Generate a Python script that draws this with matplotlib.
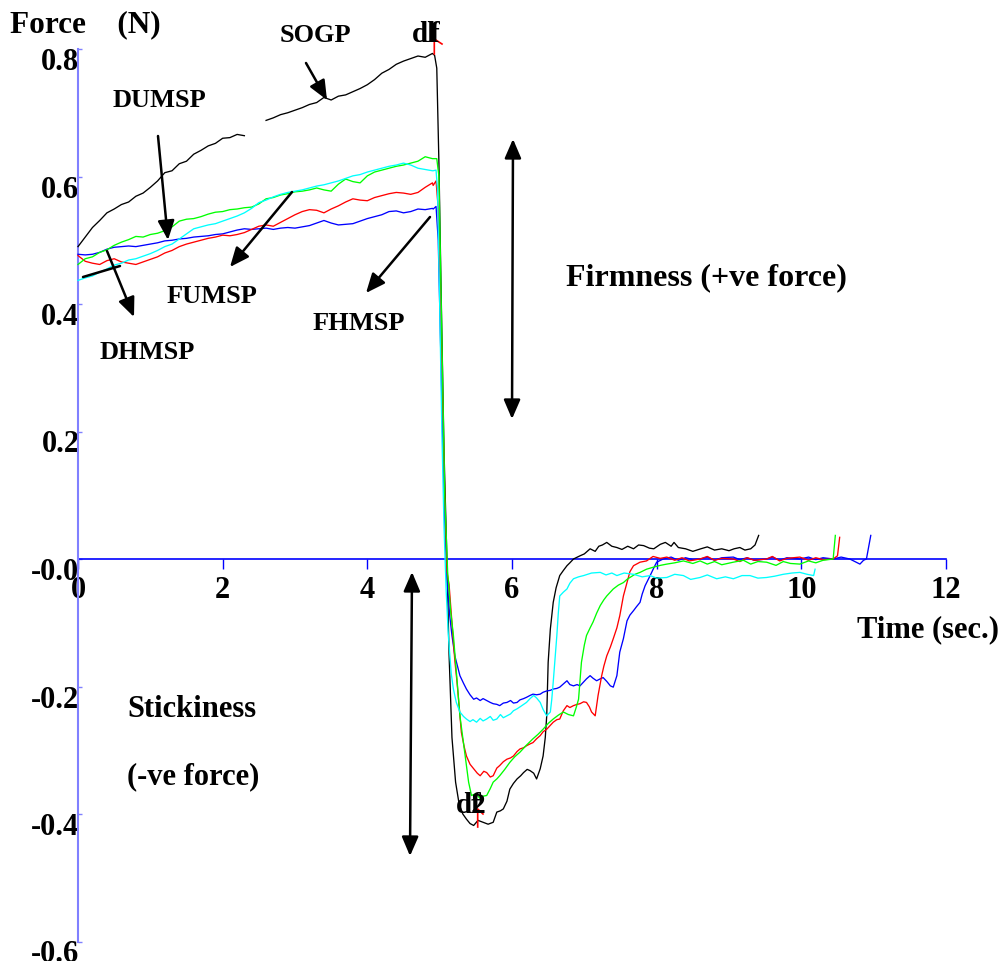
import numpy as np
import matplotlib
matplotlib.use('Agg')
import matplotlib.pyplot as plt
from matplotlib.transforms import ScaledTranslation

W, H, DPI = 1005, 962, 100

# ---------------- data ----------------
X_TICKS = [0, 2, 4, 6, 8, 10, 12]
X_LABELS = ['0', '2', '4', '6', '8', '10', '12']
Y_TICKS = [-0.6, -0.4, -0.2, 0.0, 0.2, 0.4, 0.6, 0.8]
Y_LABELS = ['-0.6', '-0.4', '-0.2', '-0.0', '0.2', '0.4', '0.6', '0.8']

# loading phase time samples (s)
T_LOAD = [0.0, 0.1, 0.2, 0.3, 0.4, 0.5, 0.6, 0.7, 0.8, 0.9,
          1.0, 1.1, 1.2, 1.3, 1.4, 1.5, 1.6, 1.7, 1.8, 1.9,
          2.0, 2.1, 2.2, 2.3, 2.4, 2.5, 2.6, 2.7, 2.8, 2.9,
          3.0, 3.1, 3.2, 3.3, 3.4, 3.5, 3.6, 3.7, 3.8, 3.9,
          4.0, 4.1, 4.2, 4.3, 4.4, 4.5, 4.6, 4.7, 4.8, 4.9]

BLACK_LOAD = [0.490, 0.505, 0.520, 0.531, 0.543, 0.549, 0.556, 0.560, 0.569, 0.574,
              0.583, 0.593, 0.606, 0.609, 0.620, 0.624, 0.635, 0.641, 0.648, 0.652,
              0.660, 0.661, 0.666, 0.664, np.nan, np.nan, 0.688, 0.692, 0.697, 0.700,
              0.704, 0.708, 0.713, 0.716, 0.724, 0.720, 0.726, 0.728, 0.733, 0.738,
              0.744, 0.752, 0.762, 0.768, 0.776, 0.781, 0.785, 0.789, 0.787, 0.793]
GREEN_LOAD = [0.462, 0.471, 0.474, 0.481, 0.485, 0.492, 0.497, 0.501, 0.506, 0.505,
              0.509, 0.511, 0.515, 0.521, 0.530, 0.533, 0.534, 0.537, 0.541, 0.544,
              0.545, 0.548, 0.549, 0.551, 0.552, 0.557, 0.565, 0.567, 0.571, 0.573,
              0.576, 0.577, 0.579, 0.582, 0.579, 0.577, 0.588, 0.596, 0.592, 0.590,
              0.601, 0.607, 0.610, 0.613, 0.616, 0.618, 0.621, 0.624, 0.631, 0.628]
CYAN_LOAD = [0.437, 0.441, 0.444, 0.450, 0.455, 0.461, 0.464, 0.469, 0.471, 0.475,
             0.479, 0.484, 0.490, 0.494, 0.502, 0.510, 0.518, 0.521, 0.524, 0.526,
             0.530, 0.534, 0.538, 0.543, 0.550, 0.559, 0.563, 0.568, 0.572, 0.575,
             0.577, 0.579, 0.582, 0.585, 0.587, 0.590, 0.593, 0.597, 0.601, 0.603,
             0.607, 0.610, 0.613, 0.616, 0.618, 0.621, 0.618, 0.613, 0.611, 0.609]
RED_LOAD = [0.476, 0.467, 0.464, 0.462, 0.468, 0.471, 0.466, 0.464, 0.462, 0.466,
            0.470, 0.474, 0.480, 0.484, 0.490, 0.494, 0.497, 0.500, 0.503, 0.505,
            0.508, 0.507, 0.509, 0.512, 0.517, 0.522, 0.524, 0.522, 0.528, 0.534,
            0.540, 0.545, 0.548, 0.547, 0.543, 0.549, 0.554, 0.560, 0.565, 0.563,
            0.562, 0.567, 0.570, 0.573, 0.575, 0.574, 0.572, 0.575, 0.583, 0.590]
BLUE_LOAD = [0.478, 0.477, 0.478, 0.481, 0.486, 0.489, 0.490, 0.491, 0.490, 0.492,
             0.494, 0.496, 0.499, 0.500, 0.502, 0.503, 0.505, 0.506, 0.507, 0.509,
             0.510, 0.513, 0.516, 0.518, 0.517, 0.518, 0.519, 0.517, 0.519, 0.520,
             0.519, 0.521, 0.523, 0.527, 0.531, 0.527, 0.524, 0.525, 0.526, 0.530,
             0.534, 0.537, 0.540, 0.545, 0.546, 0.543, 0.545, 0.549, 0.548, 0.550]

# withdrawal phase (time, force) pairs
BLACK_RELEASE = [(4.93, 0.79), (4.96, 0.77), (4.99, 0.62), (5.02, 0.42), (5.06, 0.17),
                 (5.10, 0.0), (5.13, -0.15), (5.17, -0.28), (5.22, -0.35), (5.27, -0.385),
                 (5.32, -0.400), (5.37, -0.408), (5.42, -0.415), (5.47, -0.418), (5.53, -0.410),
                 (5.60, -0.413), (5.67, -0.416), (5.74, -0.413), (5.79, -0.397), (5.84, -0.395),
                 (5.88, -0.392), (5.93, -0.380), (5.97, -0.361), (6.02, -0.352), (6.07, -0.345),
                 (6.12, -0.340), (6.16, -0.335), (6.21, -0.330), (6.25, -0.332), (6.30, -0.336),
                 (6.34, -0.345), (6.39, -0.329), (6.43, -0.309), (6.46, -0.280), (6.48, -0.246),
                 (6.50, -0.162), (6.53, -0.110), (6.57, -0.068), (6.61, -0.045), (6.66, -0.026),
                 (6.71, -0.018), (6.76, -0.0105), (6.80, -0.006), (6.85, 0.0), (6.94, 0.005),
                 (7.00, 0.008), (7.08, 0.016), (7.15, 0.012), (7.20, 0.020), (7.25, 0.022),
                 (7.31, 0.026), (7.38, 0.020), (7.45, 0.018), (7.52, 0.015), (7.60, 0.020),
                 (7.68, 0.016), (7.75, 0.022), (7.82, 0.021), (7.90, 0.017), (7.96, 0.016),
                 (8.05, 0.023), (8.12, 0.026), (8.20, 0.020), (8.24, 0.026), (8.30, 0.018),
                 (8.40, 0.016), (8.50, 0.012), (8.61, 0.016), (8.70, 0.019), (8.80, 0.014),
                 (8.90, 0.016), (9.00, 0.013), (9.07, 0.016), (9.15, 0.018), (9.22, 0.014),
                 (9.30, 0.016), (9.36, 0.022), (9.41, 0.037)]
GREEN_RELEASE = [(4.96, 0.628), (4.99, 0.60), (5.03, 0.35), (5.07, 0.10), (5.11, -0.02),
                 (5.15, -0.08), (5.19, -0.120), (5.24, -0.19), (5.28, -0.246), (5.33, -0.29),
                 (5.37, -0.324), (5.40, -0.35), (5.44, -0.371), (5.50, -0.368), (5.56, -0.376),
                 (5.60, -0.372), (5.65, -0.371), (5.70, -0.360), (5.74, -0.350), (5.79, -0.345),
                 (5.83, -0.340), (5.90, -0.330), (5.97, -0.319), (6.04, -0.310), (6.11, -0.303),
                 (6.20, -0.292), (6.29, -0.282), (6.36, -0.275), (6.43, -0.267), (6.50, -0.258),
                 (6.57, -0.251), (6.64, -0.245), (6.71, -0.240), (6.78, -0.244), (6.85, -0.246),
                 (6.89, -0.232), (6.92, -0.220), (6.94, -0.190), (6.96, -0.162), (7.00, -0.135),
                 (7.03, -0.120), (7.08, -0.108), (7.12, -0.099), (7.17, -0.085), (7.22, -0.073),
                 (7.27, -0.064), (7.31, -0.058), (7.36, -0.052), (7.40, -0.047), (7.47, -0.041),
                 (7.54, -0.037), (7.59, -0.032), (7.63, -0.029), (7.70, -0.024), (7.77, -0.021),
                 (7.86, -0.016), (7.95, -0.013), (8.05, -0.010), (8.14, -0.008), (8.25, -0.006),
                 (8.37, -0.003), (8.50, -0.007), (8.60, -0.003), (8.70, -0.008), (8.80, -0.004),
                 (8.90, -0.009), (9.06, -0.005), (9.20, -0.002), (9.30, -0.008), (9.40, -0.004),
                 (9.52, -0.005), (9.65, -0.010), (9.75, -0.004), (9.85, -0.007), (9.98, -0.008),
                 (10.10, -0.003), (10.20, -0.006), (10.30, -0.002), (10.44, 0.0), (10.47, 0.037)]
RED_RELEASE = [(4.91, 0.586), (4.95, 0.593), (4.98, 0.55), (5.01, 0.40), (5.04, 0.25),
               (5.07, 0.10), (5.10, -0.02), (5.13, -0.04), (5.17, -0.10), (5.21, -0.16),
               (5.24, -0.193), (5.30, -0.272), (5.34, -0.295), (5.37, -0.309), (5.42, -0.322),
               (5.47, -0.329), (5.52, -0.336), (5.56, -0.340), (5.61, -0.333), (5.65, -0.335),
               (5.70, -0.342), (5.74, -0.340), (5.79, -0.328), (5.83, -0.324), (5.88, -0.318),
               (5.93, -0.314), (5.98, -0.312), (6.02, -0.309), (6.07, -0.302), (6.11, -0.298),
               (6.16, -0.296), (6.20, -0.293), (6.25, -0.290), (6.29, -0.288), (6.34, -0.282),
               (6.39, -0.277), (6.43, -0.271), (6.48, -0.267), (6.53, -0.261), (6.57, -0.256),
               (6.62, -0.252), (6.66, -0.251), (6.71, -0.238), (6.76, -0.230), (6.80, -0.233),
               (6.85, -0.230), (6.90, -0.228), (6.94, -0.227), (6.99, -0.224), (7.03, -0.225),
               (7.07, -0.232), (7.10, -0.240), (7.15, -0.246), (7.19, -0.214), (7.24, -0.183),
               (7.27, -0.168), (7.31, -0.152), (7.36, -0.138), (7.40, -0.125), (7.45, -0.108),
               (7.49, -0.089), (7.54, -0.058), (7.59, -0.037), (7.63, -0.020), (7.68, -0.0105),
               (7.72, -0.008), (7.77, -0.005), (7.86, -0.003), (7.95, 0.004), (8.05, 0.001),
               (8.14, 0.003), (8.25, -0.002), (8.35, 0.002), (8.45, -0.003), (8.60, 0.0),
               (8.70, 0.004), (8.80, -0.002), (8.90, 0.001), (9.06, 0.0), (9.15, -0.004),
               (9.25, 0.002), (9.35, -0.002), (9.52, 0.0), (9.60, 0.004), (9.70, -0.003),
               (9.80, 0.001), (9.98, 0.003), (10.10, -0.002), (10.20, 0.002), (10.30, -0.001),
               (10.44, 0.0), (10.50, 0.005), (10.53, 0.034)]
CYAN_RELEASE = [(4.91, 0.609), (4.95, 0.610), (4.97, 0.58), (5.00, 0.40), (5.03, 0.20),
                (5.06, 0.05), (5.09, -0.05), (5.12, -0.12), (5.16, -0.18), (5.19, -0.204),
                (5.23, -0.225), (5.28, -0.240), (5.33, -0.247), (5.37, -0.251), (5.42, -0.255),
                (5.46, -0.252), (5.51, -0.256), (5.56, -0.250), (5.60, -0.254), (5.65, -0.251),
                (5.70, -0.247), (5.74, -0.253), (5.79, -0.251), (5.84, -0.244), (5.88, -0.249),
                (5.93, -0.246), (5.98, -0.243), (6.02, -0.238), (6.07, -0.235), (6.11, -0.232),
                (6.16, -0.228), (6.20, -0.225), (6.25, -0.219), (6.30, -0.214), (6.34, -0.218),
                (6.39, -0.225), (6.43, -0.236), (6.48, -0.246), (6.53, -0.240), (6.55, -0.220),
                (6.57, -0.193), (6.60, -0.150), (6.62, -0.120), (6.64, -0.085), (6.66, -0.058),
                (6.71, -0.052), (6.76, -0.047), (6.80, -0.038), (6.85, -0.031), (6.92, -0.028),
                (6.99, -0.026), (7.10, -0.022), (7.22, -0.021), (7.30, -0.025), (7.38, -0.022),
                (7.45, -0.026), (7.55, -0.022), (7.68, -0.024), (7.80, -0.028), (7.91, -0.026),
                (8.00, -0.030), (8.14, -0.029), (8.25, -0.024), (8.37, -0.026), (8.47, -0.032),
                (8.60, -0.029), (8.70, -0.025), (8.83, -0.031), (8.95, -0.028), (9.06, -0.031),
                (9.18, -0.026), (9.29, -0.026), (9.40, -0.030), (9.52, -0.029), (9.63, -0.027),
                (9.75, -0.024), (9.87, -0.022), (9.98, -0.021), (10.08, -0.024), (10.17, -0.026),
                (10.19, -0.016)]
BLUE_RELEASE = [(4.91, 0.549), (4.95, 0.553), (4.98, 0.50), (5.01, 0.35), (5.04, 0.20),
                (5.07, 0.06), (5.10, -0.03), (5.14, -0.09), (5.17, -0.12), (5.21, -0.152),
                (5.25, -0.170), (5.28, -0.183), (5.33, -0.195), (5.37, -0.204), (5.42, -0.213),
                (5.47, -0.220), (5.51, -0.218), (5.56, -0.222), (5.60, -0.219), (5.65, -0.222),
                (5.70, -0.225), (5.74, -0.227), (5.79, -0.228), (5.83, -0.230), (5.88, -0.226),
                (5.93, -0.225), (5.98, -0.222), (6.02, -0.226), (6.07, -0.225), (6.11, -0.221),
                (6.16, -0.219), (6.20, -0.217), (6.25, -0.214), (6.29, -0.212), (6.34, -0.213),
                (6.39, -0.212), (6.43, -0.209), (6.48, -0.207), (6.53, -0.206), (6.57, -0.204),
                (6.62, -0.203), (6.66, -0.201), (6.71, -0.196), (6.76, -0.191), (6.80, -0.197),
                (6.85, -0.199), (6.90, -0.197), (6.94, -0.199), (6.99, -0.193), (7.03, -0.188),
                (7.08, -0.183), (7.12, -0.187), (7.17, -0.191), (7.22, -0.188), (7.26, -0.186),
                (7.31, -0.192), (7.36, -0.199), (7.40, -0.201), (7.45, -0.183), (7.47, -0.165),
                (7.49, -0.146), (7.54, -0.125), (7.59, -0.097), (7.63, -0.088), (7.68, -0.081),
                (7.72, -0.075), (7.77, -0.068), (7.80, -0.055), (7.84, -0.042), (7.91, -0.026),
                (7.96, -0.014), (8.00, -0.005), (8.09, 0.0), (8.20, 0.003), (8.30, -0.002),
                (8.40, 0.002), (8.50, -0.001), (8.60, 0.0), (8.70, 0.003), (8.80, -0.002),
                (8.90, 0.002), (9.06, 0.003), (9.15, -0.001), (9.25, 0.002), (9.35, -0.002),
                (9.52, 0.0), (9.60, 0.003), (9.70, -0.002), (9.80, 0.002), (9.98, 0.0),
                (10.10, 0.003), (10.20, -0.001), (10.30, 0.002), (10.44, 0.0), (10.55, 0.003),
                (10.67, 0.0), (10.74, -0.004), (10.81, -0.008), (10.86, -0.002), (10.90, 0.0),
                (10.96, 0.037)]

SERIES = [
    ('#000000', BLACK_LOAD, BLACK_RELEASE),
    ('#0000ff', BLUE_LOAD, BLUE_RELEASE),
    ('#ff0000', RED_LOAD, RED_RELEASE),
    ('#00ff00', GREEN_LOAD, GREEN_RELEASE),
    ('#00ffff', CYAN_LOAD, CYAN_RELEASE),
]

# ---------------- figure ----------------
FONT = 'Liberation Serif'
plt.rcParams['font.family'] = [FONT, 'DejaVu Serif']
plt.rcParams['font.weight'] = 'bold'

fig = plt.figure(figsize=(W / DPI, H / DPI), dpi=DPI)
ax = fig.add_axes([78 / W, (H - 942.5) / H, 868 / W, 892.5 / H])
ax.set_xlim(0, 12)
ax.set_ylim(-0.6, 0.8)

for color, load, release in SERIES:
    xs = list(T_LOAD) + [p[0] for p in release]
    ys = list(load) + [p[1] for p in release]
    ax.plot(xs, ys, color=color, lw=0.95, clip_on=False, zorder=3)

# axes styling
for s in ['top', 'right']:
    ax.spines[s].set_visible(False)
ax.spines['bottom'].set_position(('data', 0))
ax.spines['bottom'].set_color('#0000ff')
ax.spines['bottom'].set_linewidth(1.2)
ax.spines['left'].set_color('#8080ff')
ax.spines['left'].set_linewidth(1.5)
ax.spines['bottom'].set_zorder(2)

ax.set_xticks(X_TICKS)
ax.set_xticklabels(X_LABELS)
ax.set_yticks(Y_TICKS)
ax.set_yticklabels(Y_LABELS)
ax.tick_params(axis='x', direction='out', length=7.2, width=1.0, color='#0000ff',
               pad=20, labelsize=22)
ax.tick_params(axis='y', direction='in', length=3, width=1.0, color='#8080ff',
               pad=-1, labelsize=22)
for lab in ax.get_xticklabels():
    lab.set_fontweight('bold')
    lab.set_va('baseline')
off = ScaledTranslation(0, -0.20, fig.dpi_scale_trans)
for lab in ax.get_yticklabels():
    lab.set_fontweight('bold')
    lab.set_va('baseline')
    lab.set_transform(lab.get_transform() + off)


def fp(px, py):
    return (px, H - py)


def txt(px, py, s, size=19, ha='left'):
    fig.text(px / W, 1 - py / H, s, fontsize=size, fontweight='bold', ha=ha,
             va='baseline', family=FONT)


def arrow(p0, p1, style='-|>'):
    ax.annotate('', xy=fp(*p1), xytext=fp(*p0), xycoords='figure pixels',
                textcoords='figure pixels', annotation_clip=False,
                arrowprops=dict(arrowstyle=style + (',head_length=0.65,head_width=0.28'
                                                     if '|' in style else ''),
                                mutation_scale=18, lw=1.8, color='black',
                                shrinkA=0, shrinkB=0))


# titles
txt(10, 32, 'Force    (N)', size=22.5)
txt(857, 637, 'Time (sec.)', size=22)

# sample labels and pointer arrows
txt(280, 42, 'SOGP')
arrow((306, 64), (327, 101))
txt(113, 107, 'DUMSP')
arrow((158, 137), (168, 241))
txt(100, 359, 'DHMSP')
arrow((83, 278), (120, 267), style='-')
arrow((107, 252), (134, 318))
txt(167, 303, 'FUMSP')
arrow((292, 193), (230, 268))
txt(313, 330, 'FHMSP')
arrow((430, 218), (366, 294))

# region annotations
txt(566, 285, 'Firmness (+ve force)', size=23)
arrow((512, 420), (513, 140), style='<|-|>')
txt(127, 717, 'Stickiness', size=22)
txt(127, 784, '(-ve force)', size=22)
arrow((410, 857), (412, 573), style='<|-|>')

# peak markers
txt(412, 42, 'dl', size=21)
txt(430, 42, 'f', size=21)
txt(456, 813, 'd2', size=21)
txt(471, 813, 'f', size=21)
for pts in ([(434.3, 55), (434.3, 40), (442, 45)], [(477.7, 828), (477.7, 810), (483, 815)]):
    xs = [p[0] for p in pts]
    ys = [H - p[1] for p in pts]
    fig.add_artist(plt.Line2D(xs, ys, transform=None, color='red', lw=1.2))

fig.savefig('out.png', dpi=DPI)
